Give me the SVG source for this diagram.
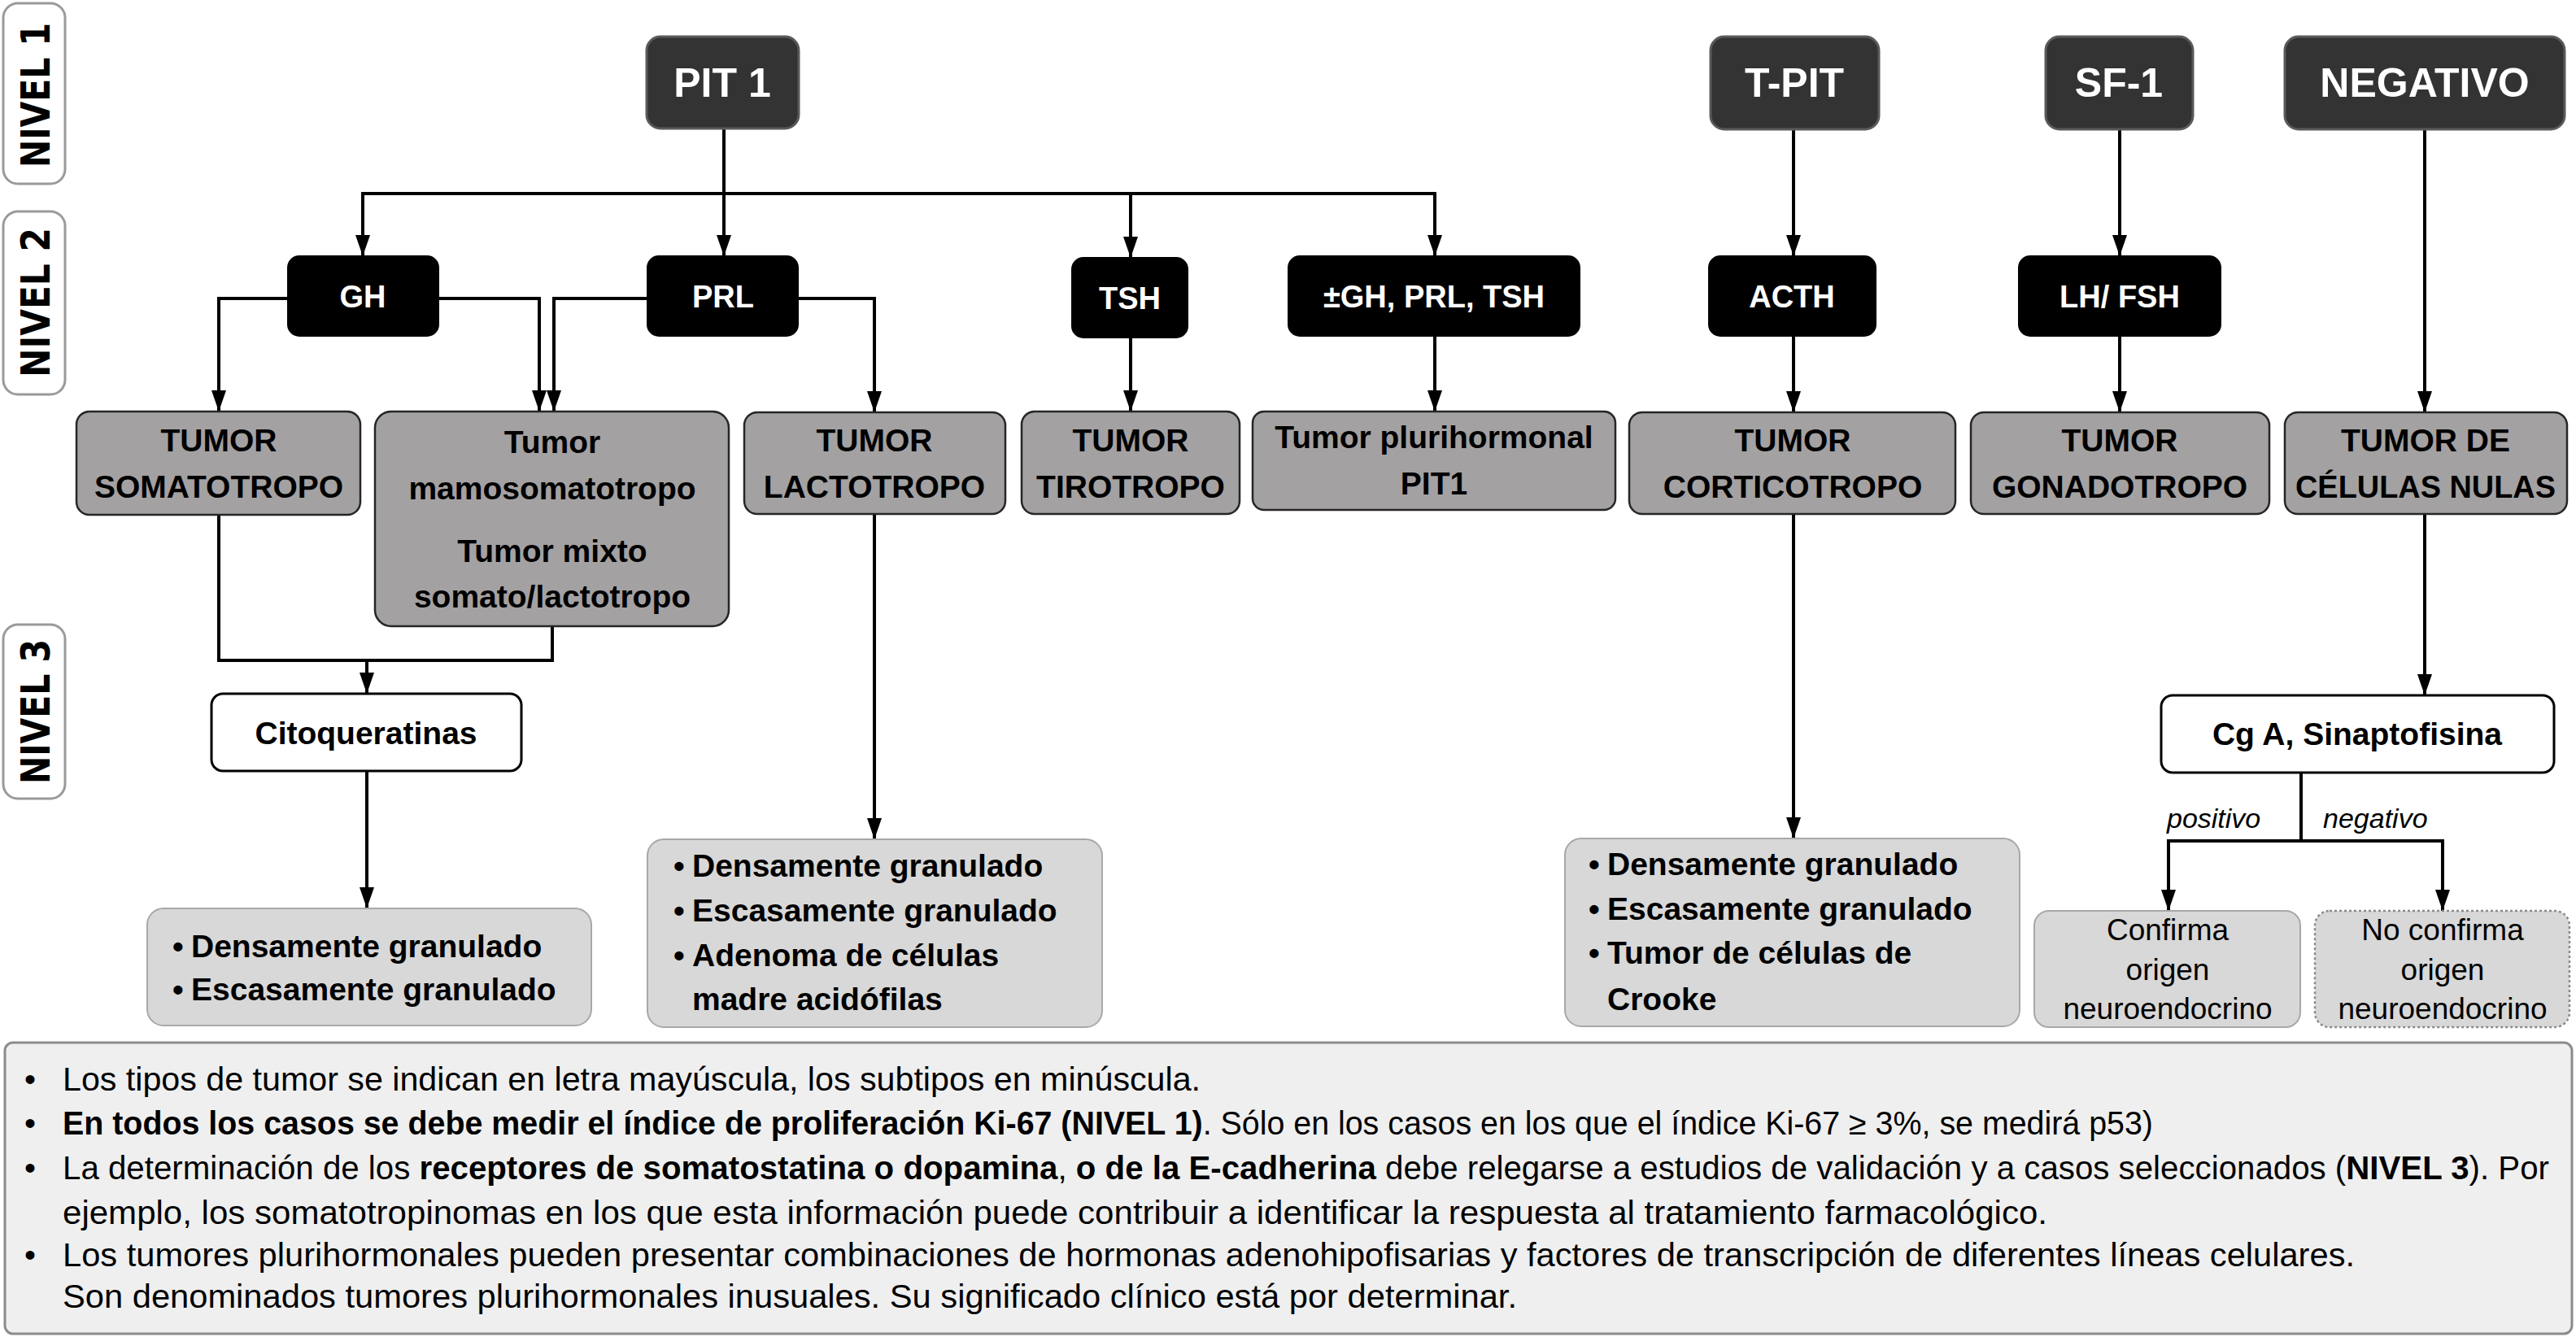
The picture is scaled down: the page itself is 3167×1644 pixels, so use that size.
<svg xmlns="http://www.w3.org/2000/svg" width="3167" height="1644" viewBox="0 0 3167 1644">
<defs>
<marker id="arr" viewBox="0 0 26 18" refX="26" refY="9" markerWidth="26" markerHeight="18" orient="auto" markerUnits="userSpaceOnUse">
<path d="M0,0 L26,9 L0,18 z" fill="#000"/>
</marker>
<style>
text{font-family:"Liberation Sans",Arial,sans-serif;}
.lvl{fill:#fff;stroke:#9a9a9a;stroke-width:3;}
.lvlt{font-family:"DejaVu Sans",Verdana,sans-serif;font-weight:bold;font-size:50px;fill:#000;}
.n1{fill:#333;stroke:#5a5a5a;stroke-width:3;}
.n1t{font-weight:bold;font-size:50px;fill:#fff;text-anchor:middle;dominant-baseline:central;}
.n2{fill:#000;stroke:#000;stroke-width:2;}
.n2t{font-weight:bold;font-size:38px;fill:#fff;text-anchor:middle;dominant-baseline:central;}
.tum{fill:#a4a1a2;stroke:#262626;stroke-width:2.5;}
.tt{font-weight:bold;font-size:39px;fill:#000;text-anchor:middle;dominant-baseline:central;}
.wb{fill:#fff;stroke:#000;stroke-width:3;}
.sub{fill:#d8d8d8;stroke:#a8a8a8;stroke-width:2;}
.st{font-weight:bold;font-size:39px;fill:#000;dominant-baseline:central;}
.ct{font-size:37px;fill:#000;text-anchor:middle;dominant-baseline:central;}
.it{font-size:34px;font-style:italic;fill:#000;dominant-baseline:central;}
.ft{font-size:40px;fill:#000;}
.b{font-weight:bold;}
.con path{fill:none;stroke:#000;stroke-width:4;}
</style>
</defs>
<rect width="3167" height="1644" fill="#fff"/>

<g id="nivel1"><rect class="lvl" x="4" y="4" width="76" height="222" rx="18"/><text class="lvlt" transform="translate(61,117) rotate(-90)" text-anchor="middle" textLength="178" lengthAdjust="spacingAndGlyphs">NIVEL 1</text></g>
<g id="nivel2"><rect class="lvl" x="4" y="260" width="76" height="225" rx="18"/><text class="lvlt" transform="translate(61,372) rotate(-90)" text-anchor="middle" textLength="184" lengthAdjust="spacingAndGlyphs">NIVEL 2</text></g>
<g id="nivel3"><rect class="lvl" x="4" y="768" width="76" height="214" rx="18"/><text class="lvlt" transform="translate(61,875) rotate(-90)" text-anchor="middle" textLength="178" lengthAdjust="spacingAndGlyphs">NIVEL 3</text></g>

<g class="con" id="connectors">
<path d="M890,158 V315" marker-end="url(#arr)"/>
<path d="M890,238 H446 V315" marker-end="url(#arr)"/>
<path d="M890,238 H1764 V315" marker-end="url(#arr)"/>
<path d="M1390,238 V317" marker-end="url(#arr)"/>
<path d="M354,367 H269 V506" marker-end="url(#arr)"/>
<path d="M539,367 H663 V506" marker-end="url(#arr)"/>
<path d="M796,367 H681 V506" marker-end="url(#arr)"/>
<path d="M981,367 H1075 V507" marker-end="url(#arr)"/>
<path d="M1390,415 V506" marker-end="url(#arr)"/>
<path d="M1764,413 V506" marker-end="url(#arr)"/>
<path d="M269,633 V812 H679 V770"/>
<path d="M451,812 V853" marker-end="url(#arr)"/>
<path d="M451,948 V1117" marker-end="url(#arr)"/>
<path d="M1075,632 V1032" marker-end="url(#arr)"/>
<path d="M2205,159 V315" marker-end="url(#arr)"/>
<path d="M2205,413 V507" marker-end="url(#arr)"/>
<path d="M2205,632 V1031" marker-end="url(#arr)"/>
<path d="M2606,159 V315" marker-end="url(#arr)"/>
<path d="M2606,413 V507" marker-end="url(#arr)"/>
<path d="M2981,159 V507" marker-end="url(#arr)"/>
<path d="M2981,632 V855" marker-end="url(#arr)"/>
<path d="M2829,950 V1034"/>
<path d="M2829,1034 H2666 V1120" marker-end="url(#arr)"/>
<path d="M2829,1034 H3003 V1120" marker-end="url(#arr)"/>
</g>

<g id="pit1"><rect class="n1" x="795" y="45" width="187" height="113" rx="17"/><text class="n1t" x="888" y="102">PIT 1</text></g>
<g id="tpit"><rect class="n1" x="2103" y="45" width="207" height="114" rx="17"/><text class="n1t" x="2206" y="102">T-PIT</text></g>
<g id="sf1"><rect class="n1" x="2515" y="45" width="181" height="114" rx="17"/><text class="n1t" x="2605" y="102">SF-1</text></g>
<g id="negativo"><rect class="n1" x="2809" y="45" width="344" height="114" rx="17"/><text class="n1t" x="2981" y="102">NEGATIVO</text></g>

<g id="gh"><rect class="n2" x="354" y="315" width="185" height="98" rx="14"/><text class="n2t" x="446" y="365">GH</text></g>
<g id="prl"><rect class="n2" x="796" y="315" width="185" height="98" rx="14"/><text class="n2t" x="889" y="365">PRL</text></g>
<g id="tsh"><rect class="n2" x="1318" y="317" width="142" height="98" rx="14"/><text class="n2t" x="1389" y="367">TSH</text></g>
<g id="ghprltsh"><rect class="n2" x="1584" y="315" width="358" height="98" rx="14"/><text class="n2t" x="1763" y="365">±GH, PRL, TSH</text></g>
<g id="acth"><rect class="n2" x="2101" y="315" width="205" height="98" rx="14"/><text class="n2t" x="2203" y="365">ACTH</text></g>
<g id="lhfsh"><rect class="n2" x="2482" y="315" width="248" height="98" rx="14"/><text class="n2t" x="2606" y="365">LH/ FSH</text></g>

<g id="somatotropo"><rect class="tum" x="94" y="506" width="349" height="127" rx="16"/><text class="tt" x="269" y="541">TUMOR</text><text class="tt" x="269" y="598">SOMATOTROPO</text></g>
<g id="mamosomatotropo"><rect class="tum" x="461" y="506" width="435" height="264" rx="20"/><text class="tt" x="679" y="543">Tumor</text><text class="tt" x="679" y="600">mamosomatotropo</text><text class="tt" x="679" y="677">Tumor mixto</text><text class="tt" x="679" y="733">somato/lactotropo</text></g>
<g id="lactotropo"><rect class="tum" x="915" y="507" width="321" height="125" rx="16"/><text class="tt" x="1075" y="541">TUMOR</text><text class="tt" x="1075" y="598">LACTOTROPO</text></g>
<g id="tirotropo"><rect class="tum" x="1256" y="506" width="268" height="126" rx="16"/><text class="tt" x="1390" y="541">TUMOR</text><text class="tt" x="1390" y="598">TIROTROPO</text></g>
<g id="plurihormonal"><rect class="tum" x="1540" y="506" width="446" height="121" rx="14"/><text class="tt" x="1763" y="537">Tumor plurihormonal</text><text class="tt" x="1763" y="594">PIT1</text></g>
<g id="corticotropo"><rect class="tum" x="2003" y="507" width="401" height="125" rx="16"/><text class="tt" x="2204" y="541">TUMOR</text><text class="tt" x="2204" y="598">CORTICOTROPO</text></g>
<g id="gonadotropo"><rect class="tum" x="2423" y="507" width="367" height="125" rx="16"/><text class="tt" x="2606" y="541">TUMOR</text><text class="tt" x="2606" y="598">GONADOTROPO</text></g>
<g id="celulasnulas"><rect class="tum" x="2809" y="507" width="347" height="125" rx="16"/><text class="tt" x="2982" y="541">TUMOR DE</text><text class="tt" x="2982" y="598" textLength="320" lengthAdjust="spacingAndGlyphs">CÉLULAS NULAS</text></g>

<g id="citoqueratinas"><rect class="wb" x="260" y="853" width="381" height="95" rx="14"/><text class="tt" x="450" y="901">Citoqueratinas</text></g>
<g id="cga"><rect class="wb" x="2657" y="855" width="483" height="95" rx="14"/><text class="tt" x="2898" y="902">Cg A, Sinaptofisina</text></g>

<g id="soma-subtipos"><rect class="sub" x="181" y="1117" width="546" height="144" rx="20"/>
<text class="st" x="212" y="1163">•</text><text class="st" x="235" y="1163">Densamente granulado</text>
<text class="st" x="212" y="1216">•</text><text class="st" x="235" y="1216">Escasamente granulado</text></g>

<g id="lacto-subtipos"><rect class="sub" x="796" y="1032" width="559" height="231" rx="20"/>
<text class="st" x="828" y="1064">•</text><text class="st" x="851" y="1064">Densamente granulado</text>
<text class="st" x="828" y="1119">•</text><text class="st" x="851" y="1119">Escasamente granulado</text>
<text class="st" x="828" y="1174">•</text><text class="st" x="851" y="1174">Adenoma de células</text>
<text class="st" x="851" y="1228">madre acidófilas</text></g>

<g id="cortico-subtipos"><rect class="sub" x="1924" y="1031" width="559" height="231" rx="20"/>
<text class="st" x="1953" y="1062">•</text><text class="st" x="1976" y="1062">Densamente granulado</text>
<text class="st" x="1953" y="1117">•</text><text class="st" x="1976" y="1117">Escasamente granulado</text>
<text class="st" x="1953" y="1171">•</text><text class="st" x="1976" y="1171">Tumor de células de</text>
<text class="st" x="1976" y="1228">Crooke</text></g>

<g id="labels"><text class="it" x="2664" y="1006">positivo</text><text class="it" x="2856" y="1006">negativo</text></g>

<g id="confirma"><rect class="sub" x="2501" y="1120" width="327" height="143" rx="18"/>
<text class="ct" x="2665" y="1143">Confirma</text><text class="ct" x="2665" y="1192">origen</text><text class="ct" x="2665" y="1240">neuroendocrino</text></g>
<g id="noconfirma"><rect x="2846" y="1120" width="313" height="143" rx="18" fill="#d8d8d8" stroke="#8a8a8a" stroke-width="2.5" stroke-dasharray="3,3"/>
<text class="ct" x="3003" y="1143">No confirma</text><text class="ct" x="3003" y="1192">origen</text><text class="ct" x="3003" y="1240">neuroendocrino</text></g>

<g id="notas"><rect x="6" y="1282" width="3156" height="358" rx="10" fill="#efefef" stroke="#8c8c8c" stroke-width="3"/>
<text class="ft" x="30" y="1341">•</text>
<text class="ft" x="77" y="1341" textLength="1399" lengthAdjust="spacingAndGlyphs">Los tipos de tumor se indican en letra mayúscula, los subtipos en minúscula.</text>
<text class="ft" x="30" y="1395">•</text>
<text class="ft" x="77" y="1395" textLength="2570" lengthAdjust="spacingAndGlyphs"><tspan class="b">En todos los casos se debe medir el índice de proliferación Ki-67 (NIVEL 1)</tspan>. Sólo en los casos en los que el índice Ki-67 ≥ 3%, se medirá p53)</text>
<text class="ft" x="30" y="1450">•</text>
<text class="ft" x="77" y="1450" textLength="3057" lengthAdjust="spacingAndGlyphs">La determinación de los <tspan class="b">receptores de somatostatina o dopamina</tspan>, <tspan class="b">o de la E-cadherina</tspan> debe relegarse a estudios de validación y a casos seleccionados (<tspan class="b">NIVEL 3</tspan>). Por</text>
<text class="ft" x="77" y="1505" textLength="2440" lengthAdjust="spacingAndGlyphs">ejemplo, los somatotropinomas en los que esta información puede contribuir a identificar la respuesta al tratamiento farmacológico.</text>
<text class="ft" x="30" y="1557">•</text>
<text class="ft" x="77" y="1557" textLength="2818" lengthAdjust="spacingAndGlyphs">Los tumores plurihormonales pueden presentar combinaciones de hormonas adenohipofisarias y factores de transcripción de diferentes líneas celulares.</text>
<text class="ft" x="77" y="1608" textLength="1788" lengthAdjust="spacingAndGlyphs">Son denominados tumores plurihormonales inusuales. Su significado clínico está por determinar.</text>
</g>
</svg>
